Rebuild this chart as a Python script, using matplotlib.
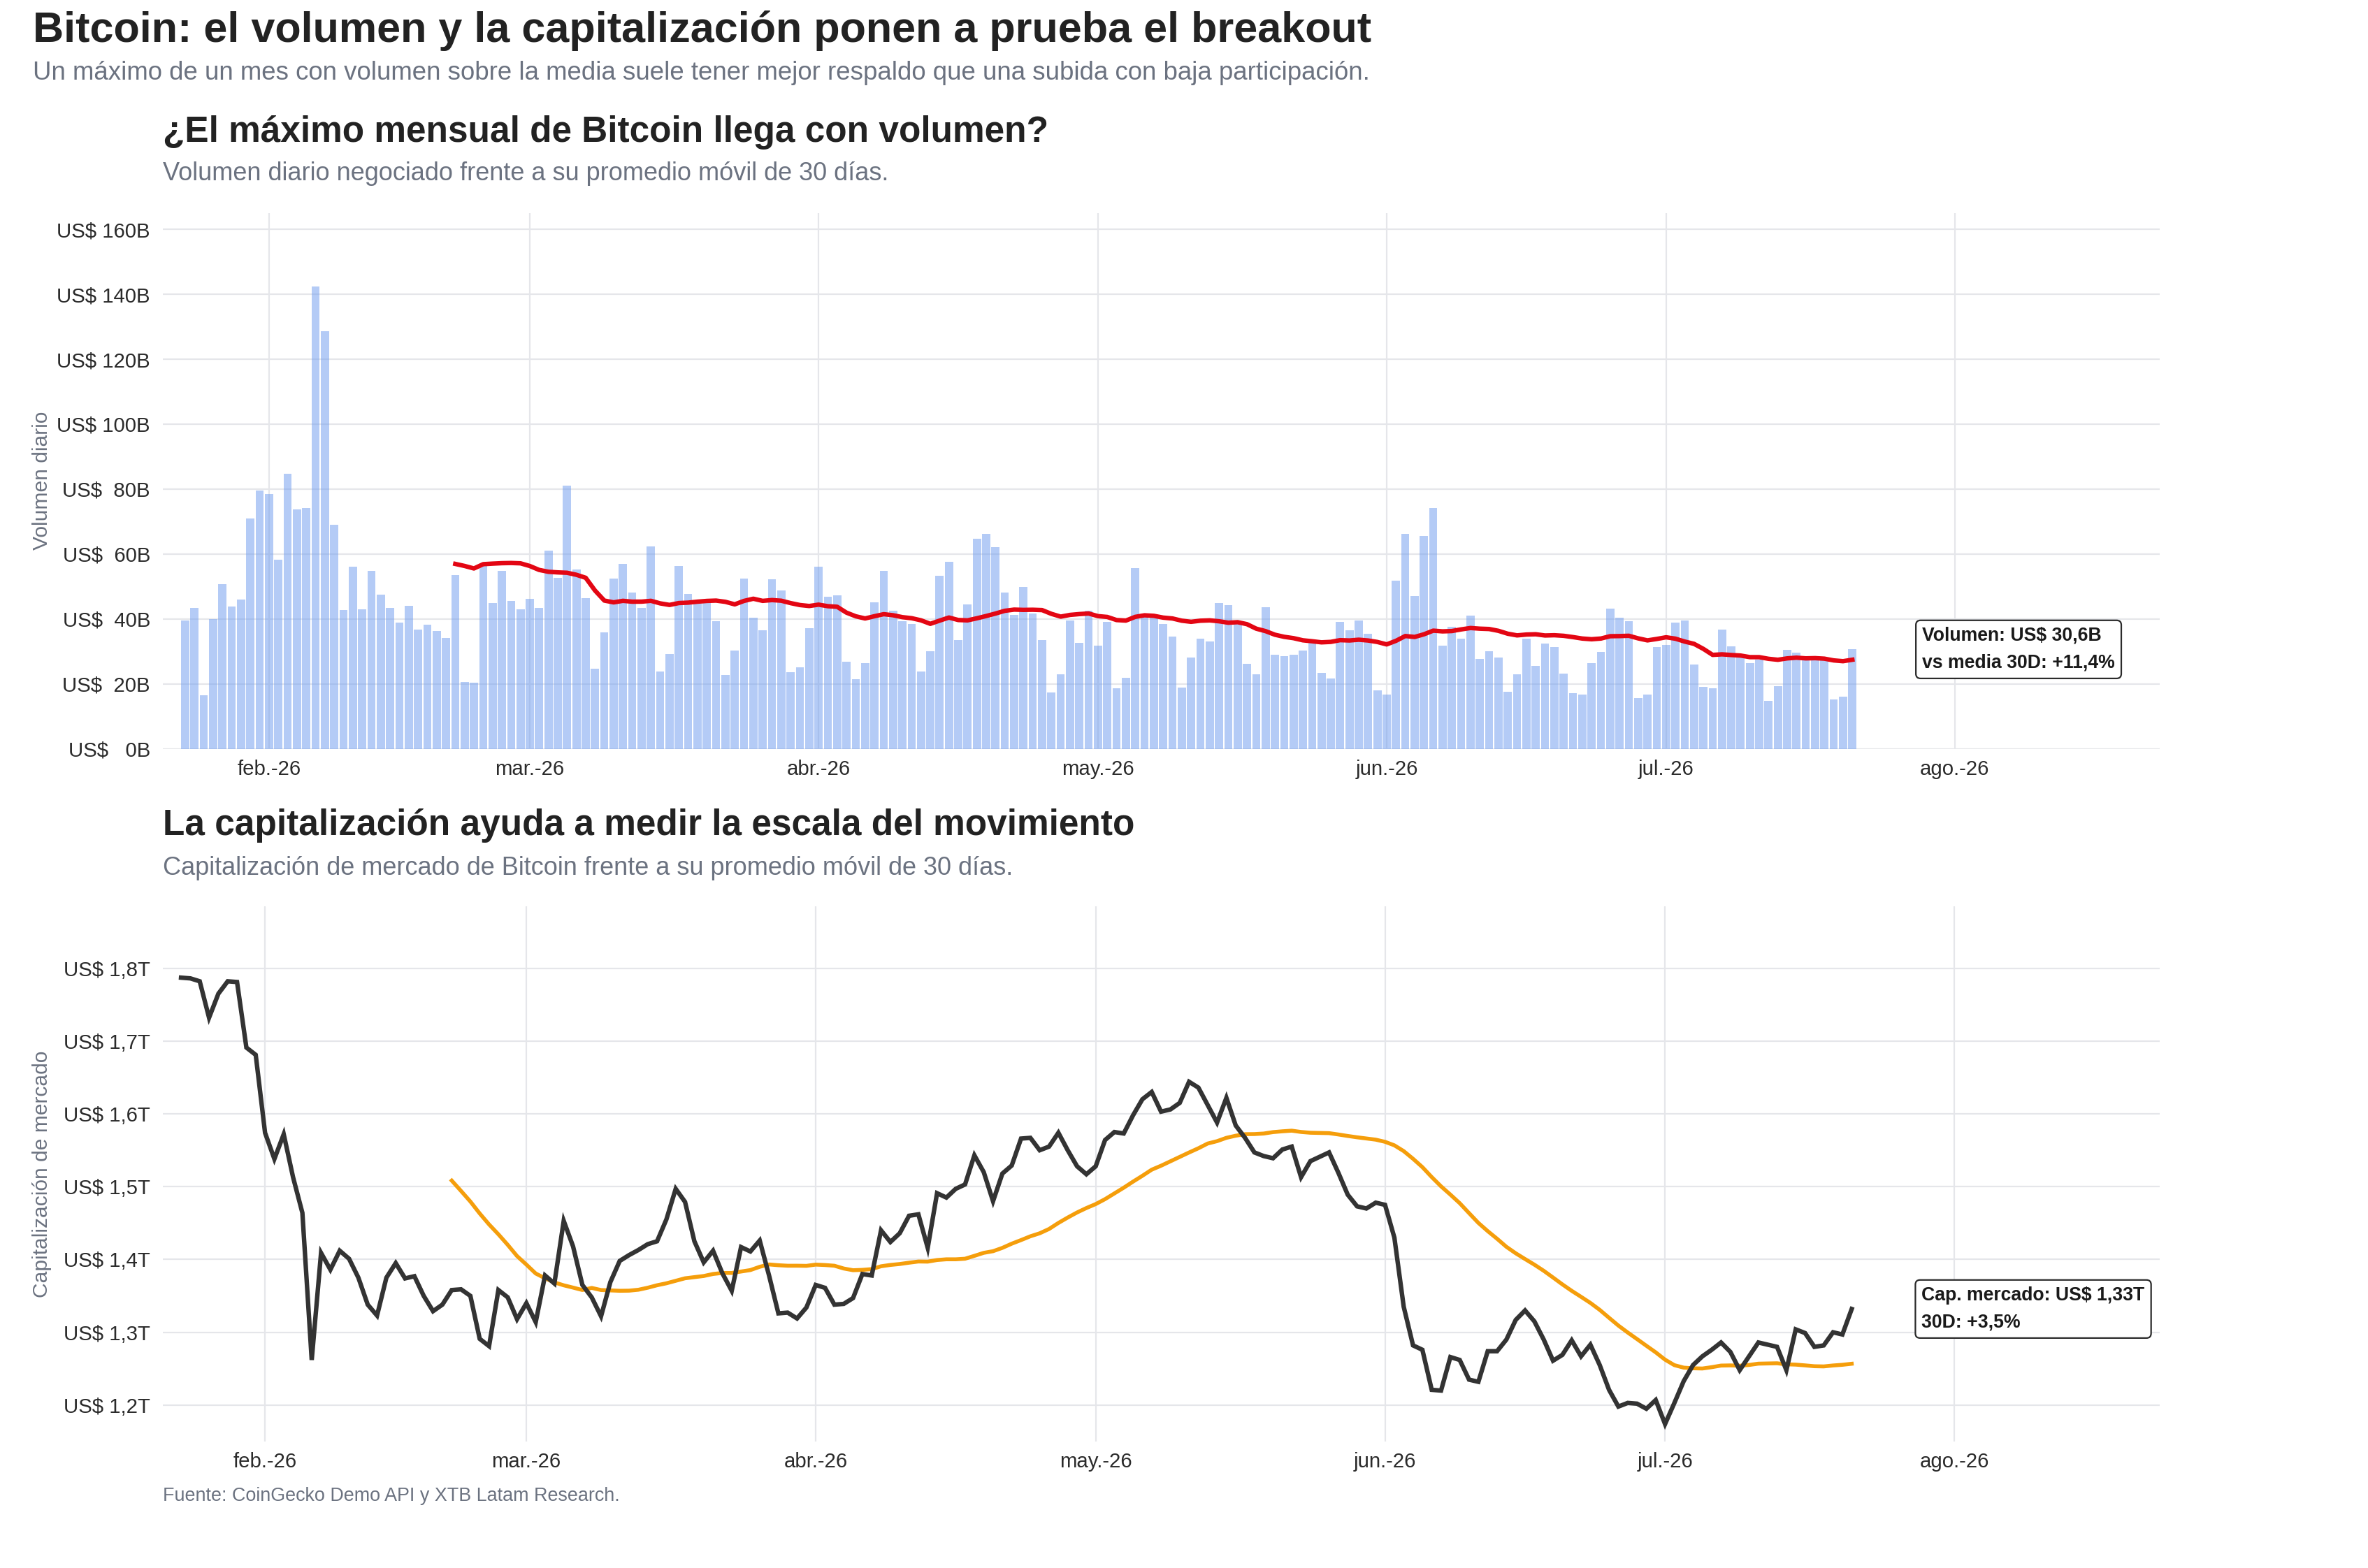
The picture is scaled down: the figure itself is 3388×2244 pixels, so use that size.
import matplotlib
matplotlib.use("Agg")
import matplotlib.pyplot as plt
import pandas as pd

# ---------------- data ----------------
start_date = "2026-01-23"

volume_b = [
    39.4, 43.4, 16.5, 39.9, 50.6, 43.9, 45.9, 70.9, 79.5, 78.4,
    58.2, 84.7, 73.7, 74.1, 142.3, 128.6, 69.0, 42.7, 56.0, 42.9,
    54.8, 47.4, 43.4, 38.9, 44.0, 36.7, 38.2, 36.2, 34.2, 53.5,
    20.5, 20.3, 56.2, 44.9, 54.8, 45.5, 42.9, 46.1, 43.4, 61.1,
    52.6, 81.1, 55.2, 46.3, 24.6, 35.8, 52.4, 56.9, 48.1, 43.3,
    62.4, 23.7, 29.1, 56.3, 47.7, 45.6, 45.2, 39.3, 22.7, 30.2,
    52.4, 40.4, 36.5, 52.2, 48.8, 23.5, 25.0, 37.1, 56.0, 46.8,
    47.2, 26.8, 21.4, 26.4, 45.2, 54.8, 42.5, 39.3, 38.4, 23.7,
    30.0, 53.3, 57.6, 33.5, 44.5, 64.7, 66.2, 62.1, 48.1, 41.2,
    49.9, 41.6, 33.5, 17.4, 23.0, 39.5, 32.6, 42.5, 31.7, 39.1,
    18.6, 21.9, 55.7, 40.9, 40.3, 38.4, 34.5, 18.8, 28.1, 33.9,
    33.1, 44.9, 44.3, 38.4, 26.1, 23.0, 43.6, 28.9, 28.6, 28.9,
    30.2, 32.8, 23.4, 21.6, 39.1, 36.5, 39.5, 35.4, 18.0, 16.7,
    51.7, 66.2, 47.0, 65.5, 74.1, 31.7, 37.6, 33.9, 41.0, 27.7,
    30.0, 28.1, 17.6, 23.0, 33.9, 25.5, 32.4, 31.3, 23.2, 17.1,
    16.7, 26.4, 29.8, 43.2, 40.3, 39.3, 15.6, 16.7, 31.3, 32.0,
    38.9, 39.5, 25.9, 19.0, 18.6, 36.7, 31.5, 28.8, 26.4, 27.5,
    14.7, 19.2, 30.4, 29.5, 27.7, 27.5, 27.5, 15.2, 16.0, 30.6,
]

market_cap_t = [
    1.787, 1.786, 1.782, 1.732, 1.765, 1.782, 1.781, 1.691, 1.681, 1.574,
    1.538, 1.572, 1.513, 1.464, 1.262, 1.409, 1.386, 1.412, 1.401, 1.375,
    1.338, 1.323, 1.375, 1.395, 1.374, 1.377, 1.350, 1.329, 1.338, 1.358,
    1.359, 1.350, 1.291, 1.281, 1.358, 1.348, 1.318, 1.340, 1.314, 1.378,
    1.367, 1.453, 1.418, 1.365, 1.348, 1.322, 1.369, 1.398, 1.406, 1.413,
    1.421, 1.425, 1.455, 1.497, 1.479, 1.425, 1.396, 1.412, 1.381, 1.357,
    1.417, 1.411, 1.426, 1.378, 1.326, 1.327, 1.319, 1.334, 1.365, 1.361,
    1.338, 1.339, 1.347, 1.380, 1.378, 1.440, 1.424, 1.436, 1.460, 1.462,
    1.416, 1.491, 1.485, 1.497, 1.503, 1.543, 1.520, 1.480, 1.518, 1.529,
    1.566, 1.567, 1.550, 1.555, 1.574, 1.550, 1.528, 1.517, 1.528, 1.564,
    1.575, 1.573, 1.598, 1.620, 1.630, 1.603, 1.606, 1.615, 1.644, 1.636,
    1.612, 1.588, 1.622, 1.584, 1.567, 1.547, 1.542, 1.539, 1.551, 1.555,
    1.513, 1.535, 1.541, 1.547, 1.519, 1.489, 1.473, 1.470, 1.478, 1.475,
    1.430, 1.335, 1.282, 1.276, 1.221, 1.220, 1.266, 1.262, 1.235, 1.232,
    1.274, 1.274, 1.290, 1.317, 1.330, 1.315, 1.290, 1.261, 1.269, 1.289,
    1.267, 1.283, 1.255, 1.221, 1.198, 1.203, 1.202, 1.195, 1.207, 1.174,
    1.203, 1.233, 1.255, 1.267, 1.276, 1.286, 1.273, 1.248, 1.267, 1.286,
    1.283, 1.280, 1.248, 1.304, 1.299, 1.280, 1.282, 1.300, 1.297, 1.332,
]

month_ticks = ["2026-02-01", "2026-03-01", "2026-04-01", "2026-05-01",
               "2026-06-01", "2026-07-01", "2026-08-01"]
month_labels = ["feb.-26", "mar.-26", "abr.-26", "may.-26",
                "jun.-26", "jul.-26", "ago.-26"]
vol_ticks = [0, 20, 40, 60, 80, 100, 120, 140, 160]
cap_ticks = [1.2, 1.3, 1.4, 1.5, 1.6, 1.7, 1.8]

vol_note = "Volumen: US$ 30,6B\nvs media 30D: +11,4%"
cap_note = "Cap. mercado: US$ 1,33T\n30D: +3,5%"

# ---------------- derived ----------------
dates = pd.date_range(start_date, periods=len(volume_b), freq="D")
vol = pd.Series(volume_b, index=dates)
vol_ma = vol.rolling(30).mean()
cap = pd.Series(market_cap_t, index=dates)
cap_ma = cap.rolling(30).mean()

# ---------------- style ----------------
FONT = ["Liberation Sans", "DejaVu Sans"]
plt.rcParams["font.family"] = FONT
W, H, DPI = 3388, 2244, 200
TXT = "#222222"
GRAY = "#6b7280"
TICK = "#2b2b2b"
GRID = "#e5e6ea"

fig = plt.figure(figsize=(W / DPI, H / DPI), dpi=DPI)
fig.patch.set_facecolor("white")


def rect(left, top, right, bottom):
    return [left / W, 1 - bottom / H, (right - left) / W, (bottom - top) / H]


def ftext(x, y, s, **kw):
    return fig.text(x / W, 1 - y / H, s, **kw)


feb1 = pd.Timestamp("2026-02-01")
aug1 = pd.Timestamp("2026-08-01")


def style_axes(ax, ticks, labels, yticks, ylabels, xl):
    for sp in ax.spines.values():
        sp.set_visible(False)
    ax.set_xticks(pd.to_datetime(ticks))
    ax.set_xticklabels(labels)
    ax.set_yticks(yticks)
    ax.set_yticklabels(ylabels)
    ax.tick_params(axis="both", length=0, labelsize=10.6, labelcolor=TICK)
    ax.tick_params(axis="y", pad=6.5)
    ax.tick_params(axis="x", pad=5.5)
    ax.grid(True, color=GRID, linewidth=0.8)
    ax.set_axisbelow(True)
    ax.set_xlim(xl)


box = dict(boxstyle="round,pad=0.34,rounding_size=0.25", fc="white",
           ec="#2b2b2b", lw=0.8)

# ---------------- top panel ----------------
ax1 = fig.add_axes(rect(233, 305, 3090, 1071.5))
ax1.bar(dates, volume_b, width=0.88, color="#6f9cef", alpha=0.52,
        edgecolor="none", zorder=2)
ax1.plot(dates, vol_ma, color="#e30613", lw=2.3, zorder=3)
style_axes(ax1, month_ticks, month_labels, vol_ticks,
           [f"US$ {v:>3d}B" for v in vol_ticks],
           (feb1 - pd.Timedelta(days=11.4), aug1 + pd.Timedelta(days=22.0)))
ax1.set_ylim(0, 165)
ax1.text(dates[-1] + pd.Timedelta(days=7.5), volume_b[-1], vol_note,
         ha="left", va="center", fontsize=9.6, fontweight="bold",
         color="#1a1a1a", linespacing=1.65, bbox=box, zorder=5)

# ---------------- bottom panel ----------------
ax2 = fig.add_axes(rect(233, 1297, 3090, 2063))
ax2.plot(dates, market_cap_t, color="#333333", lw=2.3, zorder=3,
         solid_joinstyle="miter")
ax2.plot(dates, cap_ma, color="#f59e0b", lw=2.0, zorder=2)
style_axes(ax2, month_ticks, month_labels, cap_ticks,
           [f"US$ {v:.1f}T".replace(".", ",") for v in cap_ticks],
           (feb1 - pd.Timedelta(days=10.95), aug1 + pd.Timedelta(days=22.0)))
ax2.set_ylim(1.150, 1.885)
ax2.text(dates[-1] + pd.Timedelta(days=7.5), market_cap_t[-1], cap_note,
         ha="left", va="center", fontsize=9.6, fontweight="bold",
         color="#1a1a1a", linespacing=1.65, bbox=box, zorder=5)

# ---------------- texts ----------------
ftext(47, 44, "Bitcoin: el volumen y la capitalización ponen a prueba el breakout",
      ha="left", va="center", fontsize=22.0, fontweight="bold", color=TXT)
ftext(47, 105, "Un máximo de un mes con volumen sobre la media suele tener mejor "
      "respaldo que una subida con baja participación.",
      ha="left", va="center", fontsize=13.2, color=GRAY)

ftext(233, 190, "¿El máximo mensual de Bitcoin llega con volumen?",
      ha="left", va="center", fontsize=18.5, fontweight="bold", color=TXT)
ftext(233, 249, "Volumen diario negociado frente a su promedio móvil de 30 días.",
      ha="left", va="center", fontsize=13.0, color=GRAY)

ftext(233, 1182, "La capitalización ayuda a medir la escala del movimiento",
      ha="left", va="center", fontsize=18.5, fontweight="bold", color=TXT)
ftext(233, 1243, "Capitalización de mercado de Bitcoin frente a su promedio móvil de 30 días.",
      ha="left", va="center", fontsize=13.0, color=GRAY)

ftext(60, 688, "Volumen diario", rotation=90, ha="center", va="center",
      fontsize=10.8, color=GRAY)
ftext(60, 1680, "Capitalización de mercado", rotation=90, ha="center",
      va="center", fontsize=10.8, color=GRAY)

ftext(233, 2141, "Fuente: CoinGecko Demo API y XTB Latam Research.",
      ha="left", va="center", fontsize=9.7, color=GRAY)

fig.savefig("out.png", dpi=DPI, facecolor="white")
